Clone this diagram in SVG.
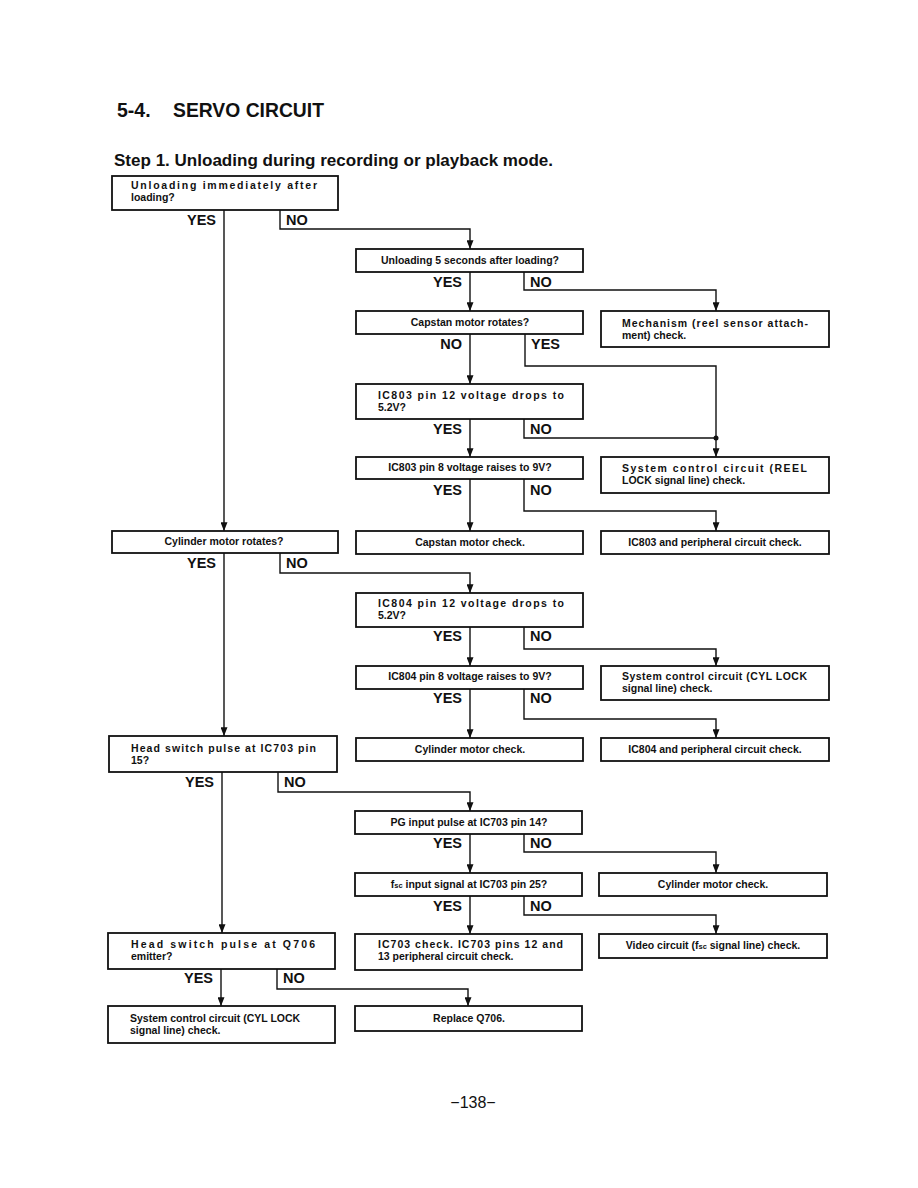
<svg xmlns="http://www.w3.org/2000/svg" width="918" height="1188" viewBox="0 0 918 1188">
<style>
.bx{fill:#fff;stroke:#111;stroke-width:1.8}
.t{font-family:"Liberation Sans",Arial,sans-serif;font-weight:bold;font-size:10.5px;fill:#111}
.c{text-anchor:middle}
.yn{font-family:"Liberation Sans",Arial,sans-serif;font-weight:bold;font-size:14.5px;fill:#111}
.ye{text-anchor:end}
.ln{fill:none;stroke:#111;stroke-width:1.4;marker-end:url(#ah)}
.ln2{fill:none;stroke:#111;stroke-width:1.4}
</style>
<defs>
<marker id="ah" viewBox="0 0 10 8" refX="10" refY="4" markerWidth="10" markerHeight="7" markerUnits="userSpaceOnUse" orient="auto">
<path d="M0,0 L10,4 L0,8 Z" fill="#111"/>
</marker>
</defs>
<rect width="918" height="1188" fill="#fff"/>
<text x="117" y="117" font-family="Liberation Sans,Arial,sans-serif" font-weight="bold" font-size="19.5" fill="#111">5-4.<tspan x="173" textLength="151" lengthAdjust="spacingAndGlyphs">SERVO CIRCUIT</tspan></text>
<text x="114" y="166" font-family="Liberation Sans,Arial,sans-serif" font-weight="bold" font-size="16" fill="#111" textLength="439" lengthAdjust="spacingAndGlyphs">Step 1. Unloading during recording or playback mode.</text>

<g id="connectors">
<path class="ln" d="M224,210 V531"/>
<path class="ln" d="M280,210 V229 H470 V249"/>
<path class="ln" d="M470,272 V311"/>
<path class="ln" d="M524,272 V290 H716 V311"/>
<path class="ln" d="M470,334 V384"/>
<path class="ln" d="M525,334 V366 H716 V457"/>
<path class="ln" d="M470,419 V457"/>
<path class="ln2" d="M524,419 V438 H716"/>
<circle cx="716" cy="438" r="2.5" fill="#111"/>
<path class="ln" d="M470,479 V531"/>
<path class="ln" d="M524,479 V511 H716 V531"/>
<path class="ln" d="M224,553 V736"/>
<path class="ln" d="M280,553 V573 H470 V593"/>
<path class="ln" d="M470,627 V666"/>
<path class="ln" d="M524,627 V649 H716 V666"/>
<path class="ln" d="M470,689 V738"/>
<path class="ln" d="M524,689 V719 H716 V738"/>
<path class="ln" d="M222,772 V933"/>
<path class="ln" d="M278,772 V792 H470 V811"/>
<path class="ln" d="M470,834 V873"/>
<path class="ln" d="M524,834 V852 H716 V873"/>
<path class="ln" d="M470,896 V934"/>
<path class="ln" d="M524,896 V915 H716 V934"/>
<path class="ln" d="M221,969 V1006"/>
<path class="ln" d="M277,969 V989 H468 V1006"/>
</g>

<g id="labels">
<text class="yn ye" x="216" y="225">YES</text><text class="yn" x="286" y="225">NO</text>
<text class="yn ye" x="462" y="287">YES</text><text class="yn" x="530" y="287">NO</text>
<text class="yn ye" x="462" y="349">NO</text><text class="yn" x="531" y="349">YES</text>
<text class="yn ye" x="462" y="434">YES</text><text class="yn" x="530" y="434">NO</text>
<text class="yn ye" x="462" y="495">YES</text><text class="yn" x="530" y="495">NO</text>
<text class="yn ye" x="216" y="568">YES</text><text class="yn" x="286" y="568">NO</text>
<text class="yn ye" x="462" y="641">YES</text><text class="yn" x="530" y="641">NO</text>
<text class="yn ye" x="462" y="703">YES</text><text class="yn" x="530" y="703">NO</text>
<text class="yn ye" x="214" y="787">YES</text><text class="yn" x="284" y="787">NO</text>
<text class="yn ye" x="462" y="848">YES</text><text class="yn" x="530" y="848">NO</text>
<text class="yn ye" x="462" y="911">YES</text><text class="yn" x="530" y="911">NO</text>
<text class="yn ye" x="213" y="983">YES</text><text class="yn" x="283" y="983">NO</text>
</g>

<g id="n1"><rect class="bx" x="112" y="176" width="226" height="34"/>
<text class="t" x="131" y="189" textLength="186" lengthAdjust="spacing">Unloading immediately after</text>
<text class="t" x="131" y="201">loading?</text></g>

<g id="n2"><rect class="bx" x="356" y="249" width="227" height="23"/>
<text class="t c" x="470" y="264">Unloading 5 seconds after loading?</text></g>

<g id="n3"><rect class="bx" x="356" y="311" width="227" height="23"/>
<text class="t c" x="470" y="326">Capstan motor rotates?</text></g>

<g id="n4"><rect class="bx" x="601" y="311" width="228" height="36"/>
<text class="t" x="622" y="327" textLength="186" lengthAdjust="spacing">Mechanism (reel sensor attach-</text>
<text class="t" x="622" y="339">ment) check.</text></g>

<g id="n5"><rect class="bx" x="356" y="384" width="227" height="35"/>
<text class="t" x="378" y="399" textLength="186" lengthAdjust="spacing">IC803 pin 12 voltage drops to</text>
<text class="t" x="378" y="411">5.2V?</text></g>

<g id="n6"><rect class="bx" x="356" y="457" width="227" height="22"/>
<text class="t c" x="470" y="471">IC803 pin 8 voltage raises to 9V?</text></g>

<g id="n7"><rect class="bx" x="601" y="457" width="228" height="36"/>
<text class="t" x="622" y="472" textLength="185" lengthAdjust="spacing">System control circuit (REEL</text>
<text class="t" x="622" y="484">LOCK signal line) check.</text></g>

<g id="n8"><rect class="bx" x="112" y="531" width="226" height="22"/>
<text class="t c" x="224" y="545">Cylinder motor rotates?</text></g>

<g id="n9"><rect class="bx" x="356" y="531" width="227" height="23"/>
<text class="t c" x="470" y="546">Capstan motor check.</text></g>

<g id="n10"><rect class="bx" x="601" y="531" width="228" height="23"/>
<text class="t c" x="715" y="546">IC803 and peripheral circuit check.</text></g>

<g id="n11"><rect class="bx" x="356" y="593" width="227" height="34"/>
<text class="t" x="378" y="607" textLength="186" lengthAdjust="spacing">IC804 pin 12 voltage drops to</text>
<text class="t" x="378" y="619">5.2V?</text></g>

<g id="n12"><rect class="bx" x="356" y="666" width="227" height="23"/>
<text class="t c" x="470" y="680">IC804 pin 8 voltage raises to 9V?</text></g>

<g id="n13"><rect class="bx" x="601" y="666" width="228" height="34"/>
<text class="t" x="622" y="680" textLength="185" lengthAdjust="spacing">System control circuit (CYL LOCK</text>
<text class="t" x="622" y="692">signal line) check.</text></g>

<g id="n14"><rect class="bx" x="356" y="738" width="227" height="23"/>
<text class="t c" x="470" y="753">Cylinder motor check.</text></g>

<g id="n15"><rect class="bx" x="601" y="738" width="228" height="23"/>
<text class="t c" x="715" y="753">IC804 and peripheral circuit check.</text></g>

<g id="n16"><rect class="bx" x="109" y="736" width="228" height="36"/>
<text class="t" x="131" y="752" textLength="185" lengthAdjust="spacing">Head switch pulse at IC703 pin</text>
<text class="t" x="131" y="764">15?</text></g>

<g id="n17"><rect class="bx" x="355" y="811" width="227" height="23"/>
<text class="t c" x="469" y="826">PG input pulse at IC703 pin 14?</text></g>

<g id="n18"><rect class="bx" x="355" y="873" width="227" height="23"/>
<text class="t c" x="469" y="888">f<tspan font-size="7.5">sc</tspan> input signal at IC703 pin 25?</text></g>

<g id="n19"><rect class="bx" x="599" y="873" width="228" height="23"/>
<text class="t c" x="713" y="888">Cylinder motor check.</text></g>

<g id="n20"><rect class="bx" x="355" y="934" width="227" height="36"/>
<text class="t" x="378" y="948" textLength="185" lengthAdjust="spacing">IC703 check. IC703 pins 12 and</text>
<text class="t" x="378" y="960">13 peripheral circuit check.</text></g>

<g id="n21"><rect class="bx" x="599" y="934" width="228" height="24"/>
<text class="t c" x="713" y="949">Video circuit (f<tspan font-size="7.5">sc</tspan> signal line) check.</text></g>

<g id="n22"><rect class="bx" x="108" y="933" width="227" height="36"/>
<text class="t" x="131" y="948" textLength="184" lengthAdjust="spacing">Head switch pulse at Q706</text>
<text class="t" x="131" y="960">emitter?</text></g>

<g id="n23"><rect class="bx" x="108" y="1006" width="227" height="37"/>
<text class="t" x="130" y="1022">System control circuit (CYL LOCK</text>
<text class="t" x="130" y="1034">signal line) check.</text></g>

<g id="n24"><rect class="bx" x="355" y="1006" width="227" height="25"/>
<text class="t c" x="469" y="1022">Replace Q706.</text></g>

<text x="473" y="1108" text-anchor="middle" font-family="Liberation Sans,Arial,sans-serif" font-size="16" fill="#111">−138−</text>
</svg>
